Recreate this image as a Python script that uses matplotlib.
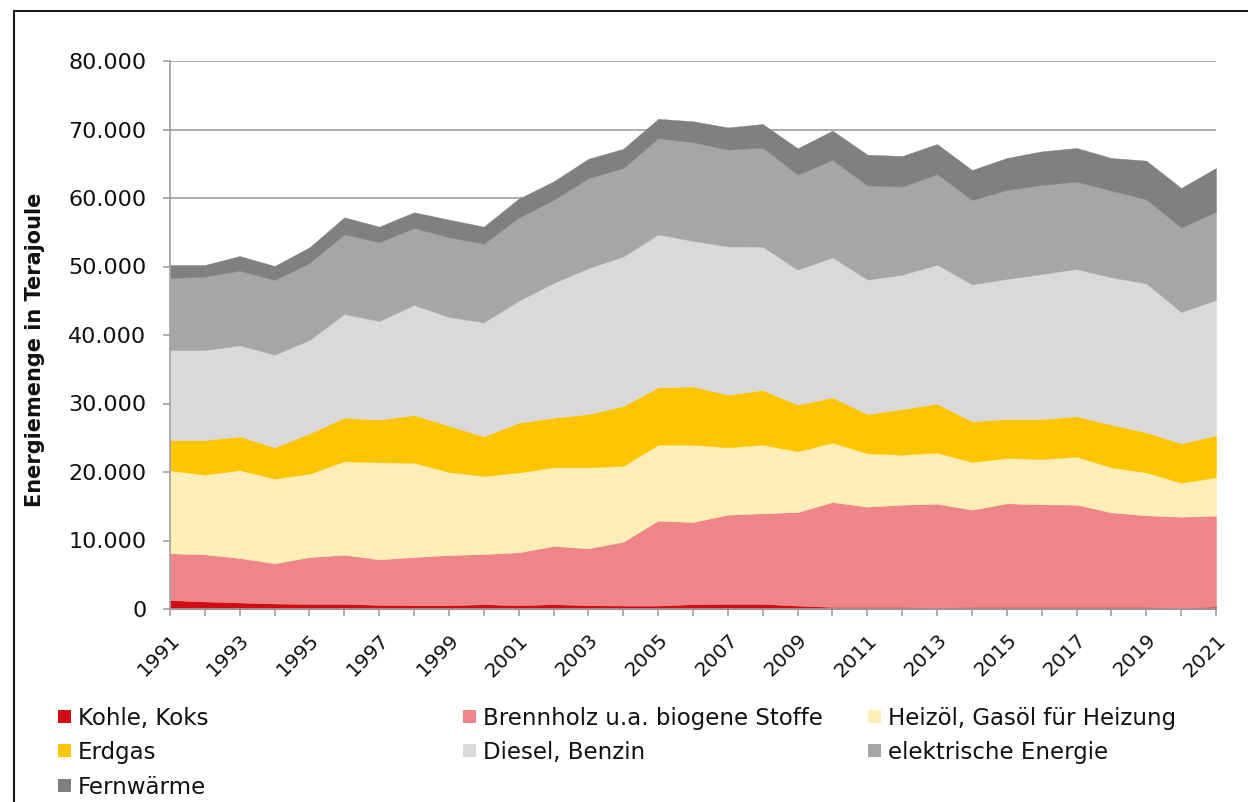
import numpy as np
import matplotlib
matplotlib.use("Agg")
import matplotlib.pyplot as plt
import matplotlib.transforms as mtransforms
from matplotlib.patches import Rectangle
from matplotlib.ticker import FuncFormatter, MultipleLocator

# Energieverbrauch privater Haushalte in Terajoule, 1991-2021
years = np.arange(1991, 2022)

kohle = [1300, 1100, 950, 800, 750, 750, 600, 550, 550, 700, 550, 700, 550, 500, 500, 700,
         750, 750, 500, 300, 300, 300, 200, 300, 300, 300, 300, 300, 300, 150, 350]
brennholz = [6830, 6880, 6500, 5870, 6840, 7180, 6650, 7040, 7330, 7330, 7720, 8500, 8310, 9330, 12400, 12000,
             13020, 13220, 13660, 15320, 14640, 14930, 15180, 14200, 15130, 14980, 14930, 13810, 13370, 13330, 13280]
heizoel = [12110, 11630, 12840, 12360, 12170, 13630, 14160, 13770, 12120, 11390, 11680, 11480, 11820, 11050, 11090, 11290,
           9830, 10020, 8860, 8660, 7790, 7300, 7440, 6960, 6610, 6620, 7010, 6570, 6280, 4960, 5590]
erdgas = [4430, 5060, 4910, 4570, 5880, 6370, 6230, 6960, 6760, 5780, 7250, 7250, 7790, 8760, 8370, 8510,
          7690, 7980, 6810, 6620, 5740, 6670, 7160, 5940, 5700, 5840, 5890, 6230, 5840, 5740, 6130]
diesel = [13140, 13140, 13290, 13530, 13630, 15140, 14400, 16060, 15870, 16650, 17810, 19660, 21300, 21830, 22330, 21250,
          21640, 20930, 19710, 20440, 19610, 19610, 20290, 20000, 20440, 21160, 21510, 21510, 21750, 19180, 19760]
strom = [10510, 10710, 10900, 10900, 11240, 11630, 11490, 11240, 11630, 11480, 12120, 12120, 13130, 12900, 14040, 14390,
         14140, 14450, 13870, 14210, 13770, 12840, 13230, 12310, 12990, 13000, 12740, 12650, 12270, 12310, 12890]
fernwaerme = [1900, 1700, 2140, 2040, 2290, 2480, 2290, 2290, 2580, 2490, 2770, 2720, 2820, 2810, 2830, 3060,
              3230, 3450, 3840, 4280, 4480, 4480, 4380, 4380, 4670, 4910, 4920, 4770, 5640, 5790, 6380]

labels = ["Kohle, Koks", "Brennholz u.a. biogene Stoffe", "Heizöl, Gasöl für Heizung",
          "Erdgas", "Diesel, Benzin", "elektrische Energie", "Fernwärme"]
colors = ["#d20c14", "#ee8588", "#fdedb6", "#fcc500", "#d9d9d9", "#a6a6a6", "#808080"]
series = [kohle, brennholz, heizoel, erdgas, diesel, strom, fernwaerme]

W, H = 1248, 802
fig = plt.figure(figsize=(W / 100, H / 100), dpi=100)
ax = fig.add_axes([170 / W, 1 - 609 / H, (1216 - 170) / W, (609 - 61) / H])

ax.stackplot(years, *series, colors=colors, edgecolor="face", linewidth=0.3)

ax.set_xlim(1991, 2021)
ax.set_ylim(0, 80000)
ax.yaxis.set_major_locator(MultipleLocator(10000))
ax.yaxis.set_major_formatter(FuncFormatter(lambda v, p: f"{v:,.0f}".replace(",", ".")))
ax.set_xticks(years[::2])
ax.set_xticks(years[1::2], minor=True)
ax.set_xticklabels([str(y) for y in years[::2]], rotation=45, ha="right", va="top",
                   rotation_mode="anchor", fontsize=14.5)
shift = mtransforms.ScaledTranslation(-7 / 100, 0, fig.dpi_scale_trans)
for t in ax.get_xticklabels():
    t.set_transform(t.get_transform() + shift)

gc = "#a0a0a0"
ax.set_axisbelow(True)
ax.yaxis.grid(True, color=gc, linewidth=1.2)
for s in ["top", "right"]:
    ax.spines[s].set_visible(False)
for s in ["left", "bottom"]:
    ax.spines[s].set_color(gc)
    ax.spines[s].set_linewidth(1.2)
ax.tick_params(axis="y", length=5, width=1.2, color=gc, labelsize=16, pad=12, labelcolor="#111111")
ax.tick_params(axis="x", which="both", length=5, width=1.2, color=gc, pad=10.5, labelcolor="#111111")

fig.text(35 / W, 1 - 350 / H, "Energiemenge in Terajoule", rotation=90, fontsize=15,
         fontweight="bold", ha="center", va="center", color="#111111")

# Legende: drei Spalten, zeilenweise
col_x = [58, 463, 868]
row_y = [716, 750, 785]
for i, (lab, c) in enumerate(zip(labels, colors)):
    x0 = col_x[i % 3]
    y0 = row_y[i // 3]
    fig.add_artist(Rectangle((x0 / W, 1 - (y0 + 6.5) / H), 13 / W, 13 / H,
                             transform=fig.transFigure, facecolor=c, edgecolor="none"))
    fig.text((x0 + 20) / W, 1 - (y0 + 8.5) / H, lab, fontsize=16.5, ha="left", va="baseline",
             color="#111111")

# Rahmen
fig.add_artist(Rectangle((14 / W, -0.5), 2, 1.5 - 10.5 / H, transform=fig.transFigure,
                         facecolor="none", edgecolor="#1a1a1a", linewidth=1.5))

fig.savefig("out.png", dpi=100)
